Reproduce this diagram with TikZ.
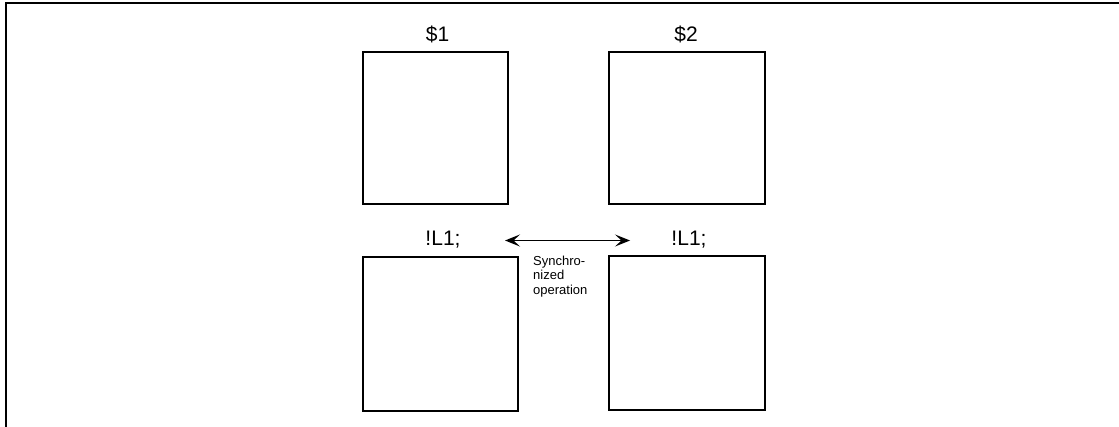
\documentclass[tikz,border=0pt]{standalone}
\usepackage{fontspec}
\setmainfont{Liberation Sans}
\usetikzlibrary{arrows.meta}
\begin{document}
\begin{tikzpicture}[x=1pt,y=1pt,
  panel/.style={draw, line width=1.6pt, inner sep=0pt, minimum height=152pt},
  lbl/.style={anchor=base, inner sep=0pt, font=\fontsize{21}{24}\selectfont},
  note/.style={anchor=north west, inner sep=0pt, align=left, font=\fontsize{13}{14.5}\selectfont},
  frame/.style={line width=2.2pt},
  syncarrow/.style={line width=1.3pt, {Stealth[length=15pt,width=12pt,inset=6.5pt]}-{Stealth[length=15pt,width=12pt,inset=6.5pt]}}
]
\useasboundingbox (0,0) rectangle (1119,426);
\draw[frame] (6,-2) -- (6,422.7) -- (1121,422.7);
% boxes
\node[panel, minimum width=145pt] (b1) at (435.5,298) {};
\node[panel, minimum width=156pt] (b2) at (687,298) {};
\node[panel, minimum width=155pt, minimum height=154pt] (b3) at (440.5,92) {};
\node[panel, minimum width=156pt, minimum height=154pt] (b4) at (687,93) {};
% labels
\node[lbl] (l1) at (437.5,384) {\$1};
\node[lbl] (l2) at (686,384) {\$2};
\node[lbl] (l3) at (443,180) {!L1;};
\node[lbl] (l4) at (689,180) {!L1;};
% arrow
\coordinate (al) at (505,185.5);
\coordinate (ar) at (630,185.5);
\draw[syncarrow] (al) -- (ar);
\node[note] (sync) at (533,170.5) {Synchro-\\nized\\operation};
\end{tikzpicture}
\end{document}
